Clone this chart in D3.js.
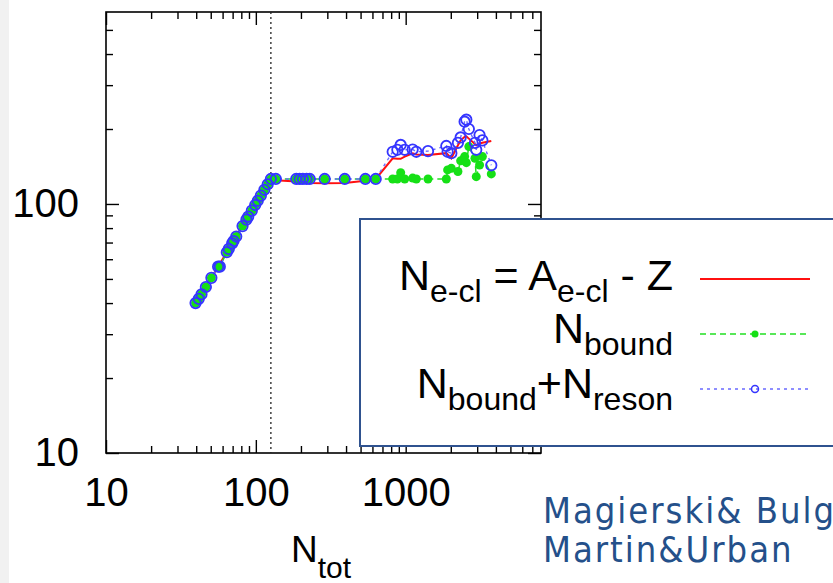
<!DOCTYPE html>
<html>
<head>
<meta charset="utf-8">
<script src="https://cdn.jsdelivr.net/npm/d3@7"></script>
<style>
body { margin: 0; background: #fff; }
svg { display: block; font-family: 'Liberation Sans', Arial, sans-serif; }
</style>
</head>
<body>
<div id="chart"></div>
<script>
// N_tot of each computed cell, shared by the three curves
const nTot = [39.6, 41.6, 43.4, 46.4, 50.5, 56, 57.5, 64, 66, 69.5, 71, 74, 81.5, 86.5, 89, 94, 99, 103, 108, 114, 120, 126,
    136, 186, 196, 206, 218, 229, 288, 392, 538, 631, 819, 880, 926, 985, 1113, 1178, 1409, 1867, 1905, 2017,
    2232, 2327, 2473, 2540, 2640, 2900, 2958, 3112, 3250, 3727];
// N_e-cl = A_e-cl - Z
const nECl = [40, 41.6, 43.4, 46.4, 50.5, 56, 57.5, 64, 66, 69.5, 71, 74, 81.5, 86.5, 89, 94, 99, 103, 108, 114, 120, 126,
    124.5, 123, 122.5, 122, 121.8, 121.5, 121.2, 121.5, 124, 126, 152.6, 152, 151.8, 154.9, 159.8, 158, 157.3, 160, 158, 152.6,
    172, 180, 186, 187, 183, 174, 172, 175, 176, 179];
const nBound = [40, 41.6, 43.4, 46.4, 50.5, 56, 56, 64, 66, 69.5, 71, 74, 81.5, 86.5, 89, 94, 99, 103, 108, 114, 120, 126,
    126, 126, 126, 126, 126, 126, 126, 126, 126, 126, 126, 126, 133.6, 126, 127, 126, 126, 126, 137, 139,
    135, 149, 155, 146.5, 170, 152.6, 128.7, 143.4, 155, 132];
const nBoundReson = [40, 41.6, 43.4, 46.4, 50.5, 56, 56, 64, 66, 69.5, 71, 74, 81.5, 86.5, 89, 94, 99, 103, 108, 114, 120, 126,
    126, 126, 126, 126, 126, 126, 126, 126, 126, 126, 162, 165, 172.6, 165, 165.5, 162, 163, 171, 162, 160,
    176, 185, 214, 218, 200, 176, 165, 189, 180, 143];

const xMajor = [10, 100, 1000];
const xMinor = [20, 30, 40, 50, 60, 70, 80, 90, 200, 300, 400, 500, 600, 700, 800, 900, 2000, 3000, 4000, 5000, 6000, 7000];
const yMajor = [10, 100];
const yMinor = [20, 30, 40, 50, 60, 70, 80, 90, 200, 300, 400, 500];
const shellN = 126;
const creditLines = ['Magierski& Bulgac', 'Martin&Urban'];

const W = 833, H = 583;
const plot = {left: 106, right: 541, top: 12, bottom: 453};

const svg = d3.select('#chart').append('svg')
    .attr('width', W)
    .attr('height', H);

svg.append('rect').attr('width', W).attr('height', H).attr('fill', '#fff');
svg.append('rect').attr('width', 9).attr('height', H).attr('fill', '#f1f1f1');

const x = d3.scaleLog().domain([10, 8000]).range([plot.left, plot.right]);
const y = d3.scaleLog().domain([10, 590]).range([plot.bottom, plot.top]);

// ticks on all four sides, pointing inwards
const tickAxis = (axis, values, size, tx, ty) => {
    const g = svg.append('g')
        .attr('transform', 'translate(' + tx + ',' + ty + ')')
        .call(axis.tickValues(values).tickSize(-size).tickFormat(''));
    g.select('.domain').remove();
    g.selectAll('line').attr('stroke', '#000').attr('stroke-width', 1.4);
    return g;
};
tickAxis(d3.axisBottom(x), xMinor, 7, 0, plot.bottom);
tickAxis(d3.axisBottom(x), xMajor, 13, 0, plot.bottom);
tickAxis(d3.axisTop(x), xMinor, 7, 0, plot.top);
tickAxis(d3.axisTop(x), xMajor, 13, 0, plot.top);
tickAxis(d3.axisLeft(y), yMinor, 7, plot.left, 0);
tickAxis(d3.axisLeft(y), yMajor, 13, plot.left, 0);
tickAxis(d3.axisRight(y), yMinor, 7, plot.right, 0);
tickAxis(d3.axisRight(y), yMajor, 13, plot.right, 0);

// tick labels
const xLab = svg.append('g')
    .attr('transform', 'translate(0,' + plot.bottom + ')')
    .call(d3.axisBottom(x).tickValues(xMajor).tickSize(0).tickPadding(25).tickFormat(d3.format('d')));
xLab.select('.domain').remove();
xLab.selectAll('text').attr('font-size', 40).attr('fill', '#000')
    .attr('font-family', "'Liberation Sans', Arial, sans-serif");

const yLab = svg.append('g')
    .attr('transform', 'translate(' + plot.left + ',0)')
    .call(d3.axisLeft(y).tickValues(yMajor).tickSize(0).tickPadding(27).tickFormat(d3.format('d')));
yLab.select('.domain').remove();
yLab.selectAll('text').attr('font-size', 40).attr('fill', '#000')
    .attr('font-family', "'Liberation Sans', Arial, sans-serif");

// frame
svg.append('rect')
    .attr('x', plot.left).attr('y', plot.top)
    .attr('width', plot.right - plot.left).attr('height', plot.bottom - plot.top)
    .attr('fill', 'none').attr('stroke', '#000').attr('stroke-width', 1.6);

// N = 126 shell closure
svg.append('line')
    .attr('x1', x(shellN)).attr('x2', x(shellN))
    .attr('y1', plot.top).attr('y2', plot.bottom)
    .attr('stroke', '#222').attr('stroke-width', 1.3).attr('stroke-dasharray', '2,3');

const pts = (ys) => nTot.map((n, i) => [n, ys[i]]);
const line = d3.line().x((d) => x(d[0])).y((d) => y(d[1]));

svg.append('path')
    .attr('d', line(pts(nECl)))
    .attr('fill', 'none').attr('stroke', '#ff1010').attr('stroke-width', 2);

svg.append('path')
    .attr('d', line(pts(nBound)))
    .attr('fill', 'none').attr('stroke', '#22e022').attr('stroke-width', 1.5).attr('stroke-dasharray', '6,4');

svg.append('path')
    .attr('d', line(pts(nBoundReson)))
    .attr('fill', 'none').attr('stroke', '#6a6aff').attr('stroke-width', 1.4).attr('stroke-dasharray', '3,4');

svg.append('g').selectAll('circle')
    .data(pts(nBound))
    .enter()
.append('circle')
    .attr('cx', (d) => x(d[0]))
    .attr('cy', (d) => y(d[1]))
    .attr('r', 4.5)
    .attr('fill', '#16e016');

svg.append('g').selectAll('circle')
    .data(pts(nBoundReson))
    .enter()
.append('circle')
    .attr('cx', (d) => x(d[0]))
    .attr('cy', (d) => y(d[1]))
    .attr('r', 5.2)
    .attr('fill', 'none')
    .attr('stroke', '#3535ff')
    .attr('stroke-width', 1.8);

// legend box
svg.append('rect')
    .attr('x', 360).attr('y', 219)
    .attr('width', 490).attr('height', 227)
    .attr('fill', '#fff').attr('stroke', '#2f528f').attr('stroke-width', 2);

const legendText = function legendText(yb, parts) {
    const t = svg.append('text')
        .attr('x', 673).attr('y', yb)
        .attr('text-anchor', 'end')
        .attr('font-size', 43)
        .attr('fill', '#000');
    let sub = false;
    for (let p of parts) {
        const isSub = p[1];
        const s = t.append('tspan').text(p[0]);
        if (isSub !== sub) {
            s.attr('dy', isSub ? 12 : -12);
            sub = isSub;
        }
        if (isSub) s.attr('font-size', 32);
    }
};
legendText(290, [['N', false], ['e-cl', true], [' = A', false], ['e-cl', true], [' - Z', false]]);
legendText(343, [['N', false], ['bound', true]]);
legendText(398, [['N', false], ['bound', true], ['+N', false], ['reson', true]]);

svg.append('line').attr('x1', 700).attr('x2', 810).attr('y1', 279).attr('y2', 279)
    .attr('stroke', '#ff1010').attr('stroke-width', 2);
svg.append('line').attr('x1', 700).attr('x2', 810).attr('y1', 334).attr('y2', 334)
    .attr('stroke', '#22e022').attr('stroke-width', 1.5).attr('stroke-dasharray', '6,4');
svg.append('circle').attr('cx', 755).attr('cy', 334).attr('r', 3.5).attr('fill', '#16e016');
svg.append('line').attr('x1', 700).attr('x2', 810).attr('y1', 389).attr('y2', 389)
    .attr('stroke', '#6a6aff').attr('stroke-width', 1.4).attr('stroke-dasharray', '3,4');
svg.append('circle').attr('cx', 755).attr('cy', 389).attr('r', 3.5)
    .attr('fill', 'none').attr('stroke', '#3535ff').attr('stroke-width', 1.5);

// x axis title
const xt = svg.append('text')
    .attr('x', 291).attr('y', 562)
    .attr('font-size', 37).attr('fill', '#000');
xt.append('tspan').text('N');
xt.append('tspan').attr('dy', 16).attr('font-size', 30).text('tot');

// handwritten credit on the slide (runs off the right edge, as on the slide)
svg.append('g').selectAll('text')
    .data(creditLines)
    .enter()
.append('text')
    .attr('x', 543)
    .attr('y', (d, i) => 523 + i * 39)
    .attr('font-family', "'DejaVu Sans Condensed', 'DejaVu Sans', cursive")
    .attr('font-stretch', 'condensed')
    .attr('font-size', 36)
    .attr('letter-spacing', 2)
    .attr('fill', '#24508a')
    .text((d) => d);
</script>
</body>
</html>
